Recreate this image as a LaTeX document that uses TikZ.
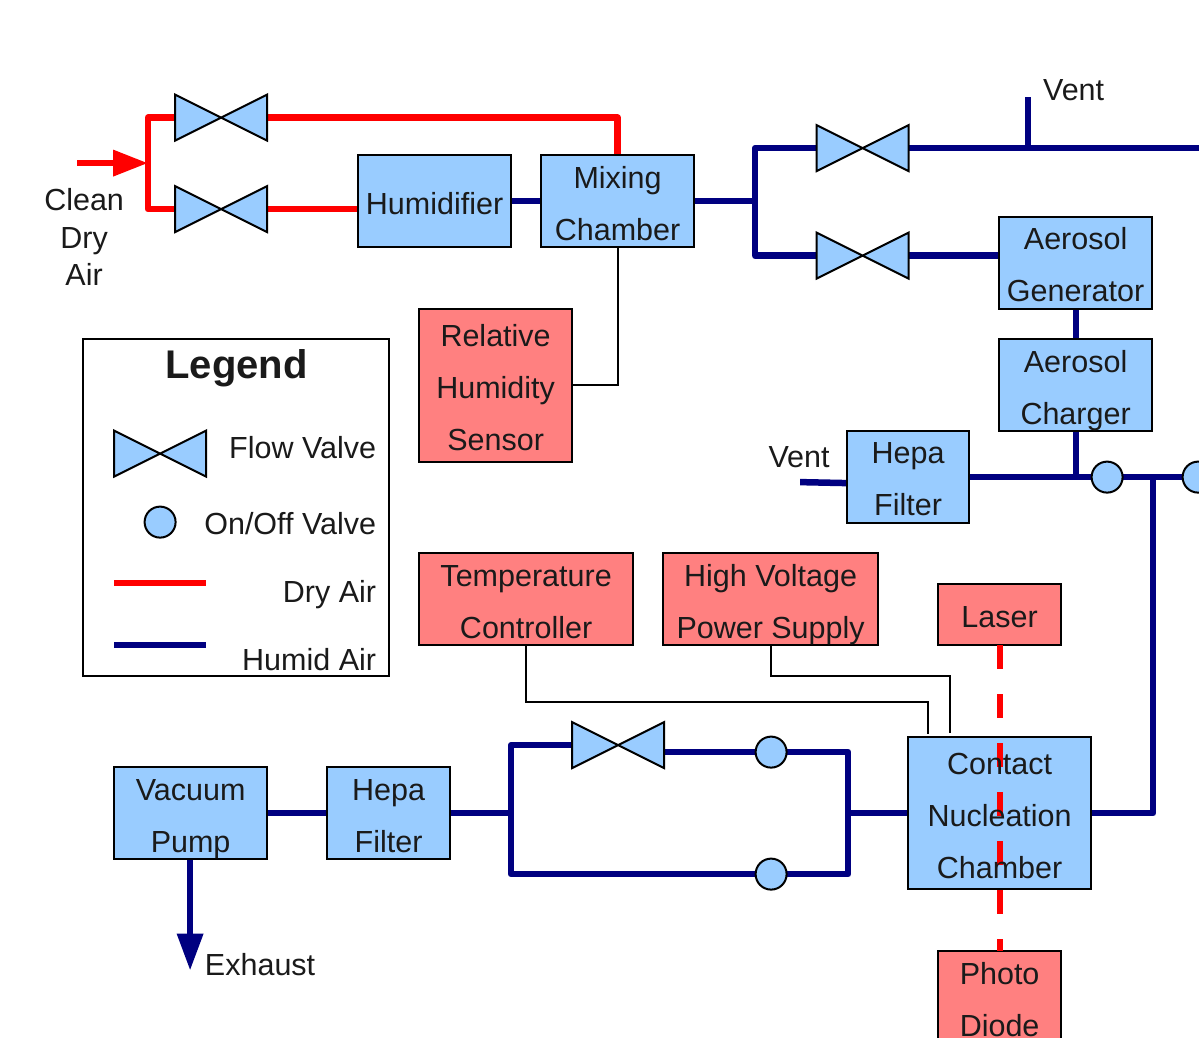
\documentclass[tikz,border=0pt]{standalone}
\usepackage{fontspec}
\setmainfont{Liberation Sans}
\usetikzlibrary{arrows.meta,backgrounds}
\definecolor{nodeblue}{HTML}{99CCFF}
\definecolor{nodered}{HTML}{FF8080}
\definecolor{navypipe}{HTML}{000080}
\definecolor{txt}{HTML}{1A1A1A}
\newcommand\lst{\rule[-7pt]{0pt}{40pt}}
\tikzset{
  every node/.style={text=txt,font=\fontsize{30.5}{52}\selectfont,inner sep=0pt,outer sep=0pt},
  struttext/.style={align=center},
  unit/.style={draw=black,line width=2pt,struttext,minimum width=#1},
  bluebox/.style={unit=#1,fill=nodeblue},
  redbox/.style={unit=#1,fill=nodered},
  valvebox/.style={minimum width=92pt,minimum height=46pt},
  valveshape/.style={draw=black,fill=nodeblue,line width=2pt,line join=miter},
  onoff/.style={circle,draw=black,fill=nodeblue,line width=2pt,minimum size=31pt},
  dry/.style={draw=red,line width=6.5pt,line join=round},
  humid/.style={draw=navypipe,line width=6.5pt,line join=round},
  signal/.style={draw=black,line width=2pt,line join=miter},
  lbl/.style={anchor=base},
  lblr/.style={anchor=base east},
}
\newcommand\valve[3]{%
  \node[valvebox] (#1) at (#2,#3) {};
  \draw[valveshape] (#1.north west) -- (#1.south west) -- (#1.north east) -- (#1.south east) -- cycle;
}
\begin{document}
\begin{tikzpicture}[x=1pt,y=-1pt]
\useasboundingbox (0,0) rectangle (1199,1037);
\clip (0,0) rectangle (1199,1037);
\begin{scope}[shift={(0.1,0.1)}]

% process units
\node[bluebox=153pt,minimum height=92pt] (hum) at (434.5,201) {\lst Humidifier};
\node[bluebox=153pt,minimum height=92pt] (mix) at (617.5,201) {\lst Mixing\\\lst Chamber};
\node[bluebox=153pt,minimum height=92pt] (gen) at (1075.5,262.5) {\lst Aerosol\\\lst Generator};
\node[bluebox=153pt,minimum height=92pt] (chg) at (1075.5,385) {\lst Aerosol\\\lst Charger};
\node[bluebox=122pt,minimum height=92pt] (hepa1) at (908,476.5) {\lst Hepa\\\lst Filter};
\node[redbox=153pt,minimum height=153pt] (rh) at (495.5,385) {\lst Relative\\\lst Humidity\\\lst Sensor};
\node[redbox=214pt,minimum height=92pt] (temp) at (526,599) {\lst Temperature\\\lst Controller};
\node[redbox=215pt,minimum height=92pt] (hv) at (770.5,599) {\lst High Voltage\\\lst Power Supply};
\node[redbox=123pt,minimum height=61pt] (laser) at (999.5,614.5) {\lst Laser};
\node[bluebox=183pt,minimum height=152pt] (cnc) at (999.5,813) {};
\node[redbox=123pt,minimum height=92pt] (photo) at (999.5,997) {\lst Photo\\\lst Diode};
\node[bluebox=153pt,minimum height=92pt] (vac) at (190.5,813) {\lst Vacuum\\\lst Pump};
\node[bluebox=123pt,minimum height=92pt] (hepa2) at (388.5,813) {\lst Hepa\\\lst Filter};

% valves
\valve{v1}{221}{117.5}
\valve{v2}{221}{209}
\valve{v3}{862.5}{148}
\valve{v4}{862.5}{255.5}
\valve{v5}{618}{745}
\node[onoff] (o1) at (1107,477) {};
\node[onoff] (o2) at (1198,477) {};
\node[onoff] (o3) at (771,752) {};
\node[onoff] (o4) at (771,874) {};

% free ends and junctions
\coordinate (inlet) at (77,163);
\coordinate (split) at (148,163);
\coordinate (redtop) at (148,117.5);
\coordinate (redlow) at (148,209);
\coordinate (ubus) at (755,201);
\coordinate (edgeT) at (1199,148);
\coordinate (ventT) at (1028,97);
\coordinate (ventjT) at (1028,148);
\coordinate (ventL) at (800,482);
\coordinate (hepaL) at (847,483);
\coordinate (chgj) at (1076,477);
\coordinate (ret) at (1153,477);
\coordinate (v5r) at (664,752);
\coordinate (lbus) at (511,813);
\coordinate (rbus) at (848,813);
\coordinate (exh) at (190,970.5);

\begin{pgfonlayer}{background}
  % dry air
  \draw[dry] (v1.west) -- (redtop) -- (redlow) -- (v2.west);
  \draw[dry] (v1.east) -| (mix.north);
  \draw[dry] (v2.east) -- (hum.west |- v2.east);
  \draw[dry,-{Triangle[length=35pt,width=25pt]}] (inlet) -- (split);
  % humid air
  \draw[humid] (hum.east) -- (mix.west);
  \draw[humid] (mix.east) -- (ubus);
  \draw[humid] (v3.west) -| (ubus) |- (v4.west);
  \draw[humid] (v3.east) -- (edgeT);
  \draw[humid] (ventT) -- (ventjT);
  \draw[humid] (v4.east) -- (gen.west |- v4.east);
  \draw[humid] (gen.south -| chgj) -- (chg.north -| chgj);
  \draw[humid] (chg.south -| chgj) -- (chgj);
  \draw[humid] (hepa1.east |- o1) -- (o1) -- (o2);
  \draw[humid] (ret) |- (cnc.east);
  \draw[humid] (ventL) -- (hepaL);
  \draw[humid] (vac.east) -- (hepa2.west);
  \draw[humid] (hepa2.east) -- (lbus);
  \draw[humid] (v5.west) -| (lbus) |- (o4) -| (rbus) |- (o3) -- (v5r);
  \draw[humid] (rbus) -- (cnc.west);
  \draw[humid,-{Triangle[length=37pt,width=25pt]}] (vac.south -| exh) -- (exh);
  % signals
  \coordinate (tempj) at (928,734);
  \coordinate (hvj) at (950,733);
  \coordinate (tempk) at (527,702);
  \coordinate (hvk) at (771,676);
  \draw[signal] (mix.south) |- (rh.east);
  \draw[signal] (temp.south) -- (temp.south |- tempk) -| (tempj);
  \draw[signal] (hv.south) -- (hv.south |- hvk) -| (hvj);
\end{pgfonlayer}

% laser beam, over the chamber box and under its text
\draw[red,line width=6pt,dash pattern=on 24pt off 25pt] (laser.south) -- (photo.north);
\node[struttext] (cnctext) at (cnc.center) {\lst Contact\\\lst Nucleation\\\lst Chamber};

% inlet and outlet labels
\node[align=center,font=\fontsize{30.5}{37.5}\selectfont] (clean) at (84,237) {Clean\\Dry\\Air};
\node[lbl] (ventTl) at (1073.5,100) {Vent};
\node[lbl] (ventLl) at (799,467) {Vent};
\node[lbl] (exhl) at (260,975) {Exhaust};

% legend
\node[draw=black,line width=2pt,fill=white,minimum width=306pt,minimum height=337pt] (leg) at (236,507.5) {};
\node[lbl,font=\fontsize{40}{48}\selectfont\bfseries] (legt) at (236.5,378) {Legend};
\valve{lv}{160}{453.5}
\node[onoff] (lo) at (160,522) {};
\coordinate (ld1) at (114,583);
\coordinate (ld2) at (206,583);
\coordinate (lh1) at (114,645);
\coordinate (lh2) at (206,645);
\draw[dry] (ld1) -- (ld2);
\draw[humid] (lh1) -- (lh2);
\node[lblr] (l1) at (376,458) {Flow Valve};
\node[lblr] (l2) at (376,534) {On/Off Valve};
\node[lblr] (l3) at (376,602) {Dry Air};
\node[lblr] (l4) at (376,670) {Humid Air};
\end{scope}
\end{tikzpicture}
\end{document}
